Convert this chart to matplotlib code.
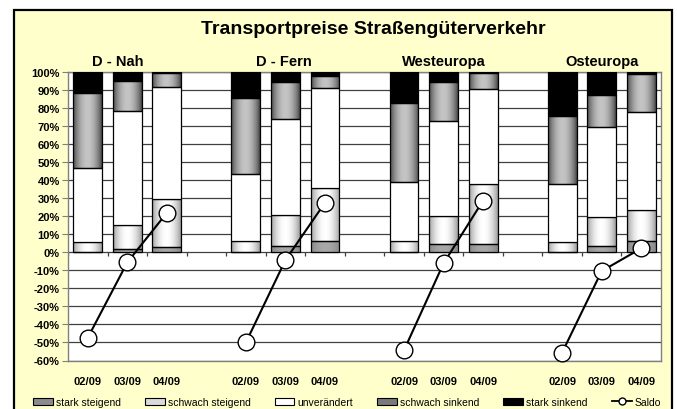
import numpy as np
import matplotlib
matplotlib.use("Agg")
import matplotlib.pyplot as plt
from matplotlib.patches import Rectangle, Patch
from matplotlib.lines import Line2D

plt.rcParams['font.family'] = ['Liberation Sans', 'DejaVu Sans']

# ---------------- data ----------------
title = "Transportpreise Straßengüterverkehr"
regions = ["D - Nah", "D - Fern", "Westeuropa", "Osteuropa"]
periods = ["02/09", "03/09", "04/09"]

stark_steigend   = [0.0, 1.7, 2.8,   0.0, 3.7, 6.5,   0.0, 4.6, 4.6,   0.0, 3.7, 6.5]
schwach_steigend = [5.6, 13.7, 26.8, 6.5, 17.2, 29.1, 6.5, 15.4, 33.2, 5.9, 15.7, 17.2]
unveraendert     = [41.1, 63.1, 62.3, 37.2, 52.8, 55.7, 32.4, 52.8, 52.8, 32.2, 50.0, 54.3]
schwach_sinkend  = [41.8, 16.5, 7.6, 42.0, 20.6, 6.3, 43.7, 21.5, 8.9, 37.3, 18.0, 20.9]
stark_sinkend    = [11.5, 5.0, 0.5, 14.3, 5.7, 2.4, 17.4, 5.7, 0.5, 24.6, 12.6, 1.1]
saldo            = [-47.4, -5.6, 21.9, -50.0, -4.3, 27.5, -54.3, -6.1, 28.7, -55.6, -10.4, 2.2]

series_names = ["stark steigend", "schwach steigend", "unverändert",
                "schwach sinkend", "stark sinkend"]
y_ticks = list(range(-60, 101, 10))

# ---------------- figure ----------------
W, H = 677, 410
fig = plt.figure(figsize=(W / 100, H / 100), dpi=100, facecolor="white")
bg = Rectangle((14 / W, -0.05), (672 - 14) / W, 1 - 11 / H + 0.05,
               transform=fig.transFigure, facecolor="#FFFFCC",
               edgecolor="black", lw=1.6, zorder=-10)
fig.patches.append(bg)

ax = fig.add_axes([68 / W, 1 - 361.5 / H, (661 - 68) / W, (361.5 - 73) / H])
ax.set_zorder(1)
ax.set_facecolor("white")

n_per = len(periods)
xpos = np.array([g * (n_per + 1) + i for g in range(len(regions)) for i in range(n_per)])


def grad_colors(edge, center, n=64):
    t = np.linspace(0, 1, n)
    f = np.sin(np.pi * t) ** 0.8
    e = np.array(matplotlib.colors.to_rgb(edge))
    c = np.array(matplotlib.colors.to_rgb(center))
    return (e[None, :] + (c - e)[None, :] * f[:, None])[None, :, :]


styles = [
    ("#858585", "#A8A8A8"),   # stark steigend
    ("#9A9A9A", "#FFFFFF"),   # schwach steigend
    (None, "#FFFFFF"),        # unverändert
    ("#454545", "#C4C4C4"),   # schwach sinkend
    (None, "#000000"),        # stark sinkend
]
all_series = [stark_steigend, schwach_steigend, unveraendert, schwach_sinkend, stark_sinkend]

bottom = np.zeros(len(xpos))
for vals, (edge, center) in zip(all_series, styles):
    vals = np.array(vals)
    bars = ax.bar(xpos, vals, bottom=bottom, width=0.73,
                  color=center if edge is None else "none",
                  edgecolor="black", lw=0.9, zorder=3)
    if edge is not None:
        g = grad_colors(edge, center)
        for p in bars.patches:
            if p.get_height() <= 0:
                continue
            x0, y0 = p.get_x(), p.get_y()
            im = ax.imshow(g, extent=[x0, x0 + p.get_width(), y0, y0 + p.get_height()],
                           aspect="auto", interpolation="bilinear", zorder=2.5)
            im.set_clip_path(p)
    bottom += vals

# Saldo line per region
for gi in range(len(regions)):
    sl = slice(gi * n_per, (gi + 1) * n_per)
    ax.plot(xpos[sl], saldo[sl], color="black", lw=1.5, marker="o", ms=12,
            mfc="white", mec="black", mew=1.0, zorder=5, clip_on=False)

ax.set_xlim(-0.5, xpos.max() + 0.5)
ax.set_ylim(-60, 100)

# grid / axes
ax.set_yticks(y_ticks, [f"{v}%" for v in y_ticks])
ax.yaxis.grid(True, color="#404040", lw=0.9)
ax.set_axisbelow(True)
for lab in ax.get_yticklabels():
    lab.set_fontweight("bold")
ax.tick_params(axis="y", length=4, color="#808080", labelsize=8, pad=2)
for s in ax.spines.values():
    s.set_color("#808080")
    s.set_linewidth(1.0)

ax.set_xticks(xpos, [p for _ in regions for p in periods])
for lab in ax.get_xticklabels():
    lab.set_fontweight("bold")
ax.tick_params(axis="x", length=0, labelsize=8, pad=11)

# small ticks at zero axis
ax.vlines(np.arange(-0.5, xpos.max() + 1), -1.8, 0, color="#404040", lw=0.9, zorder=2)

# region labels
label_shift = [-0.23, -0.05, 0.0, 0.0]
for gi, r in enumerate(regions):
    cx = xpos[gi * n_per: (gi + 1) * n_per].mean() + label_shift[gi]
    ax.text(cx, 106.1, r, ha="center", va="center", fontsize=10.5,
            fontweight="bold", clip_on=False)

fig.text(373 / W, 1 - 30 / H, title, ha="center", va="center",
         fontsize=14, fontweight="bold")

# legend
handles = [
    Patch(facecolor="#8C8C8C", edgecolor="black", lw=0.8),
    Patch(facecolor="#DADADA", edgecolor="black", lw=0.8),
    Patch(facecolor="white", edgecolor="black", lw=0.8),
    Patch(facecolor="#7A7A7A", edgecolor="black", lw=0.8),
    Patch(facecolor="black", edgecolor="black", lw=0.8),
    Line2D([], [], color="black", lw=1.3, marker="o", ms=5, mfc="white", mec="black"),
]
fig.legend(handles, series_names + ["Saldo"], loc="center",
           bbox_to_anchor=(347 / W, 1 - 403 / H), ncol=6, frameon=False,
           fontsize=7.5, handlelength=1.9, handleheight=0.7,
           handletextpad=0.3, columnspacing=2.3, borderpad=0)

fig.savefig("out.png", dpi=100, facecolor=fig.get_facecolor())
